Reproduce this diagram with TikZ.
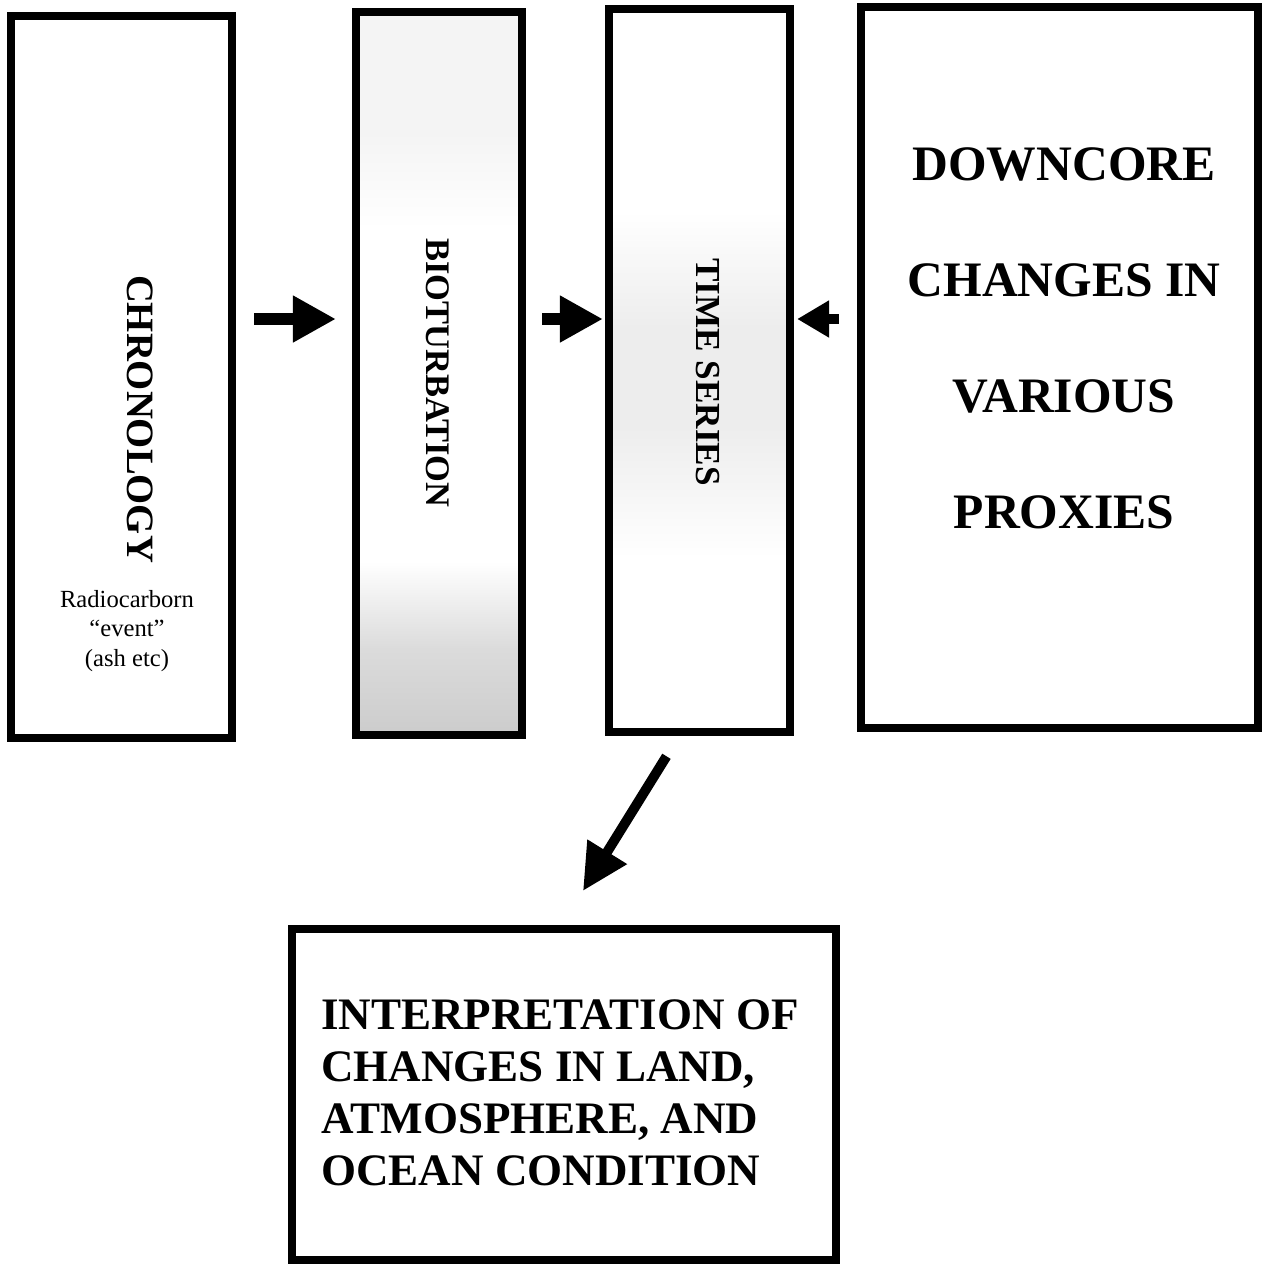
\documentclass[tikz,border=0pt]{standalone}
\usepackage{fontspec}
\setmainfont{Liberation Serif}
\usetikzlibrary{arrows.meta}
% stippled fills, scanned look (25bp = bottom, 75bp = top)
\pgfdeclareverticalshading{biofade}{100bp}{color(0bp)=(gray!40); color(25bp)=(gray!40);
  color(31bp)=(gray!28); color(37bp)=(white); color(60bp)=(white);
  color(67bp)=(gray!9); color(75bp)=(gray!9); color(100bp)=(gray!9)}
\pgfdeclareverticalshading{tsfade}{100bp}{color(0bp)=(white); color(37bp)=(white);
  color(46bp)=(gray!14); color(53bp)=(gray!14); color(61bp)=(white); color(100bp)=(white)}
\tikzset{
  bx/.style={rectangle, draw=black, line width=2.3pt, fill=white, inner sep=0pt},
  bigarr/.style={-{Triangle[length=4.3mm, width=4.4mm]}, line width=3.4pt},
  vlbl/.style={rotate=-90, inner sep=0pt, font=\bfseries\fontsize{#1}{#1}\selectfont},
  blk/.style={inner sep=0pt, font=\bfseries\fontsize{#1}{#1}\selectfont},
}

\begin{document}
\begin{tikzpicture}[x=0.01cm, y=-0.01cm]
  \useasboundingbox (0,0) rectangle (1276,1266);

  % ── Boxes ──────────────────────────────────────────────────────────────────
  \node[bx, minimum width=2.21cm, minimum height=7.22cm] at (121.5,377) (chron) {};
  \node[bx, shade, shading=biofade, minimum width=1.66cm, minimum height=7.23cm]
      at (439,373.5) (bio) {};
  \node[bx, shade, shading=tsfade, minimum width=1.81cm, minimum height=7.23cm]
      at (699.5,370.5) (ts) {};
  \node[bx, minimum width=3.97cm, minimum height=7.21cm] at (1059.5,367.5) (dc) {};
  \node[bx, minimum width=5.44cm, minimum height=3.31cm] at (564,1094.5) (interp) {};

  % ── Labels ─────────────────────────────────────────────────────────────────
  \node[vlbl=11] at (140,419) (chronlbl) {CHRONOLOGY};
  \node[inner sep=0pt, align=center, font=\fontsize{7}{8.5}\selectfont]
      at (127,631) (radiolbl) {Radiocarborn\\“event”\\(ash etc)};
  \node[vlbl=9.8] at (438,373) (biolbl) {BIOTURBATION};
  \node[vlbl=10] at (708,372) (tslbl) {TIME SERIES};
  \node[blk=14.1, align=center, text depth=0pt,
        font=\bfseries\fontsize{14.1}{33}\selectfont] at (1064,338) (dclbl)
      {DOWNCORE\\CHANGES IN\\VARIOUS\\PROXIES};
  \node[blk=12.8, align=left,
        font=\bfseries\fontsize{12.8}{14.8}\selectfont] at (560,1093) (interplbl)
      {INTERPRETATION OF\\CHANGES IN LAND,\\ATMOSPHERE, AND\\OCEAN CONDITION};

  % ── Arrows ─────────────────────────────────────────────────────────────────
  \coordinate (row) at (0,319);
  \draw[bigarr, shorten <=0.18cm, shorten >=0.16cm] (chron.east |- row) -- (bio.west |- row);
  \draw[bigarr, shorten <=0.16cm, shorten >=0.02cm] (bio.east |- row) -- (ts.west |- row);
  \draw[bigarr, line width=3pt, -{Triangle[length=3.2mm, width=3.5mm]},
        shorten <=0.18cm, shorten >=0.03cm] (dc.west |- row) -- (ts.east |- row);
  \draw[bigarr, line width=2.8pt, -{Triangle[length=4.6mm, width=4.4mm]}]
      ([xshift=-0.33cm, yshift=-0.2cm]ts.south) -- ([xshift=0.19cm, yshift=0.34cm]interp.north);
\end{tikzpicture}
\end{document}
